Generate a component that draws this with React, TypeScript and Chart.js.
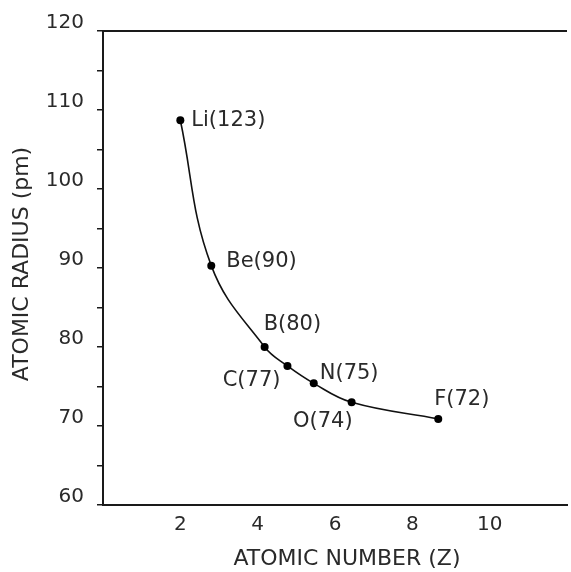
import React, { useEffect, useRef } from "react";
import { Chart, registerables } from "chart.js";

Chart.register(...registerables);

// ---- data ----
const elements = ["Li(123)", "Be(90)", "B(80)", "C(77)", "N(75)", "O(74)", "F(72)"];
const atomicNumber = [2.0, 2.8, 4.18, 4.77, 5.45, 6.43, 8.67];
const atomicRadius = [108.7, 90.3, 80.0, 77.6, 75.4, 73.0, 70.9];
const xTickValues = [2, 4, 6, 8, 10];
const yTickValues = [60, 70, 80, 90, 100, 110, 120];
const xTitle = "ATOMIC NUMBER (Z)";
const yTitle = "ATOMIC RADIUS (pm)";

// label placement (style only): dx, dy from point, alignment
const labelPlacement: { dx: number; dy: number; align: CanvasTextAlign }[] = [
  { dx: 11, dy: 0, align: "left" },
  { dx: 15, dy: -4, align: "left" },
  { dx: -1, dy: -22, align: "left" },
  { dx: -7, dy: 15, align: "right" },
  { dx: 6, dy: -10, align: "left" },
  { dx: 1, dy: 19, align: "right" },
  { dx: -4, dy: -19, align: "left" },
];

const FONT = "'DejaVu Sans', Verdana, sans-serif";
const TEXT = "#2a2a2a";
const AXIS = "#1a1a1a";

export default function App() {
  const ref = useRef<HTMLCanvasElement | null>(null);

  useEffect(() => {
    if (!ref.current) return;
    const decor = {
      id: "decor",
      afterDatasetsDraw(chart: any) {
        const ctx = chart.ctx as CanvasRenderingContext2D;
        const meta = chart.getDatasetMeta(0);
        ctx.save();
        ctx.font = `21px ${FONT}`;
        ctx.fillStyle = TEXT;
        ctx.textBaseline = "middle";
        meta.data.forEach((pt: any, i: number) => {
          const p = labelPlacement[i];
          ctx.textAlign = p.align;
          ctx.fillText(elements[i], pt.x + p.dx, pt.y + p.dy);
        });
        ctx.restore();
      },
      afterDraw(chart: any) {
        const ctx = chart.ctx as CanvasRenderingContext2D;
        const a = chart.chartArea;
        ctx.save();
        ctx.strokeStyle = AXIS;
        ctx.lineWidth = 2;
        ctx.beginPath();
        ctx.moveTo(a.left - 1, a.top);
        ctx.lineTo(a.right, a.top);
        ctx.stroke();
        ctx.fillStyle = TEXT;
        ctx.font = `22px ${FONT}`;
        ctx.textAlign = "center";
        ctx.textBaseline = "middle";
        ctx.fillText(xTitle, 347, 559);
        ctx.translate(22, 264);
        ctx.rotate(-Math.PI / 2);
        ctx.fillText(yTitle, 0, 0);
        ctx.restore();
      },
    };

    const chart = new Chart(ref.current, {
      type: "line",
      data: {
        datasets: [
          {
            data: atomicNumber.map((x, i) => ({ x, y: atomicRadius[i] })),
            borderColor: "#111",
            borderWidth: 1.6,
            backgroundColor: "#000",
            pointRadius: 4,
            pointBackgroundColor: "#000",
            pointBorderWidth: 0,
            tension: 0.4,
            fill: false,
          },
        ],
      },
      options: {
        animation: false,
        responsive: false,
        maintainAspectRatio: false,
        layout: { padding: { top: 31, right: 0, left: 0, bottom: 0 } },
        plugins: { legend: { display: false }, tooltip: { enabled: false } },
        scales: {
          x: {
            type: "linear",
            min: 0,
            max: 12,
            afterBuildTicks: (s: any) => {
              s.ticks = xTickValues.map((v) => ({ value: v }));
            },
            afterFit: (s: any) => {
              s.height = 67;
            },
            ticks: {
              font: { family: FONT, size: 20 },
              color: TEXT,
              padding: 8,
              maxRotation: 0,
            },
            grid: { display: true, drawOnChartArea: false, drawTicks: false },
            border: { display: true, color: AXIS, width: 2 },
          },
          y: {
            type: "linear",
            min: 60,
            max: 120,
            ticks: {
              stepSize: 5,
              font: { family: FONT, size: 20 },
              color: TEXT,
              padding: 13,
              labelOffset: -8,
              callback: (v: any) => (yTickValues.includes(Number(v)) ? String(v) : ""),
            },
            afterFit: (s: any) => {
              s.width = 103;
            },
            grid: {
              drawOnChartArea: false,
              drawTicks: true,
              tickLength: 6,
              color: AXIS,
              lineWidth: 1.5,
            },
            border: { display: true, color: AXIS, width: 2 },
          },
        },
      },
      plugins: [decor],
    } as any);
    return () => chart.destroy();
  }, []);

  return (
    <div style={{ position: "fixed", left: 0, top: 0, width: 571, height: 572, background: "#fff" }}>
      <canvas ref={ref} width={571} height={572} style={{ width: 571, height: 572, display: "block" }} />
    </div>
  );
}
